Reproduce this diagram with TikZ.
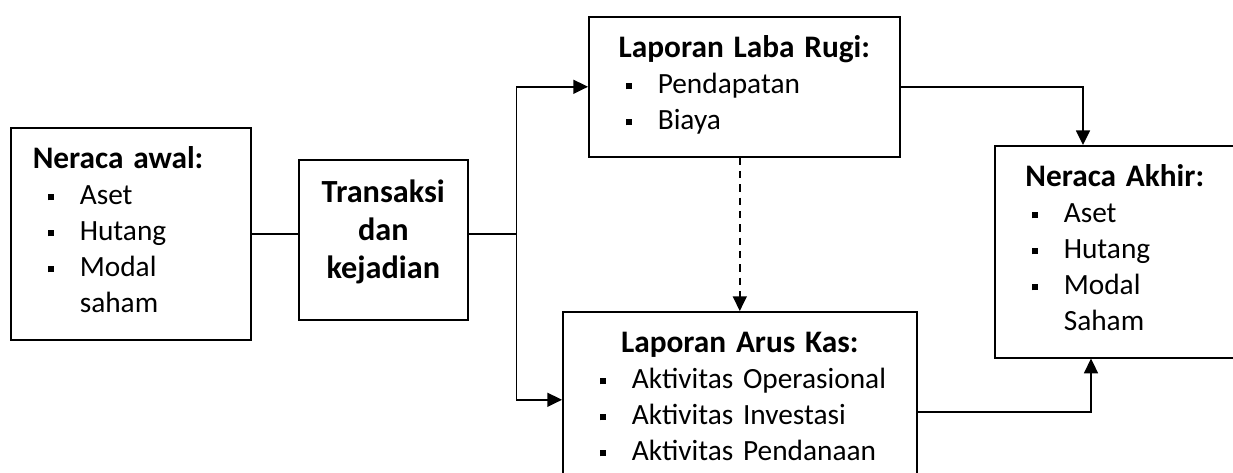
\documentclass[tikz,border=0pt]{standalone}
\usepackage{fontspec}
\setmainfont{Carlito}
\usepackage{tikz}
\usetikzlibrary{arrows.meta, positioning, calc}

\newcommand{\poin}[1]{\mbox{\rule[3.5pt]{4.5pt}{4.5pt}\hspace{19.5pt}#1}\strut}
\newcommand{\lanjut}[1]{\mbox{\hspace*{24pt}#1}\strut}
\newcommand{\tebal}{\fontsize{23.5}{27}\selectfont\bfseries}
\newcommand{\judul}[1]{\makebox[\linewidth]{\tebal #1}\strut}

\tikzset{
  kotak/.style={draw, line width=1.2pt, anchor=north west, align=left,
    inner xsep=27.75pt, inner ysep=12pt},
  garis/.style={line width=1.2pt},
  panah/.style={line width=1.2pt, -{Triangle[length=11pt,width=10.5pt]}}
}

\begin{document}
\begin{tikzpicture}[x=0.75pt, y=-0.75pt, font=\fontsize{22}{27}\selectfont]
\useasboundingbox (0,0) rectangle (1233,473);
\clip (0,0) rectangle (1233,473);

% kotak-kotak
\node[kotak, text width=124.5pt] (awal) at (10,127)
  {\hspace*{-11.25pt}\mbox{\tebal Neraca awal:}\strut\\
   \poin{Aset}\\ \poin{Hutang}\\ \poin{Modal}\\ \lanjut{saham}};
\node[kotak, align=center, text width=106.75pt, inner xsep=10pt,
      font=\fontsize{24.2}{28.5}\selectfont\bfseries] (trans) at (298,159)
  {Transaksi\strut\\ dan\strut\\ kejadian\rule[-19pt]{0pt}{1pt}};
\node[kotak, text width=177.75pt] (laba) at (588,16)
  {\judul{Laporan Laba Rugi:}\\ \poin{Pendapatan}\\ \poin{Biaya}};
\node[kotak, text width=210pt] (arus) at (562,311)
  {\judul{Laporan Arus Kas:}\\ \poin{Aktivitas Operasional}\\
   \poin{Aktivitas Investasi}\\ \poin{Aktivitas Pendanaan}};
\node[kotak, text width=124.5pt] (akhir) at (994,145)
  {\judul{Neraca Akhir:}\\ \poin{Aset}\\ \poin{Hutang}\\ \poin{Modal}\\ \lanjut{Saham}};

% garis penghubung
\coordinate (cabang) at ($(awal.east)+(265,0)$);
\draw[garis] (awal.east) -- (awal.east -| trans.west);
\draw[garis] (trans.east |- awal.east) -- (cabang);
\draw[panah] (cabang) |- (laba.west);
\draw[panah] (cabang) |- (arus.west);
\draw[panah, dash pattern=on 5.5pt off 4.5pt] (arus.north |- laba.south) -- (arus.north);
\draw[panah] (laba.east) -| ([xshift=66.75pt]akhir.north west);
\draw[panah] ([yshift=-9pt]arus.east) -| ([xshift=72.75pt]akhir.south west);
\end{tikzpicture}
\end{document}
